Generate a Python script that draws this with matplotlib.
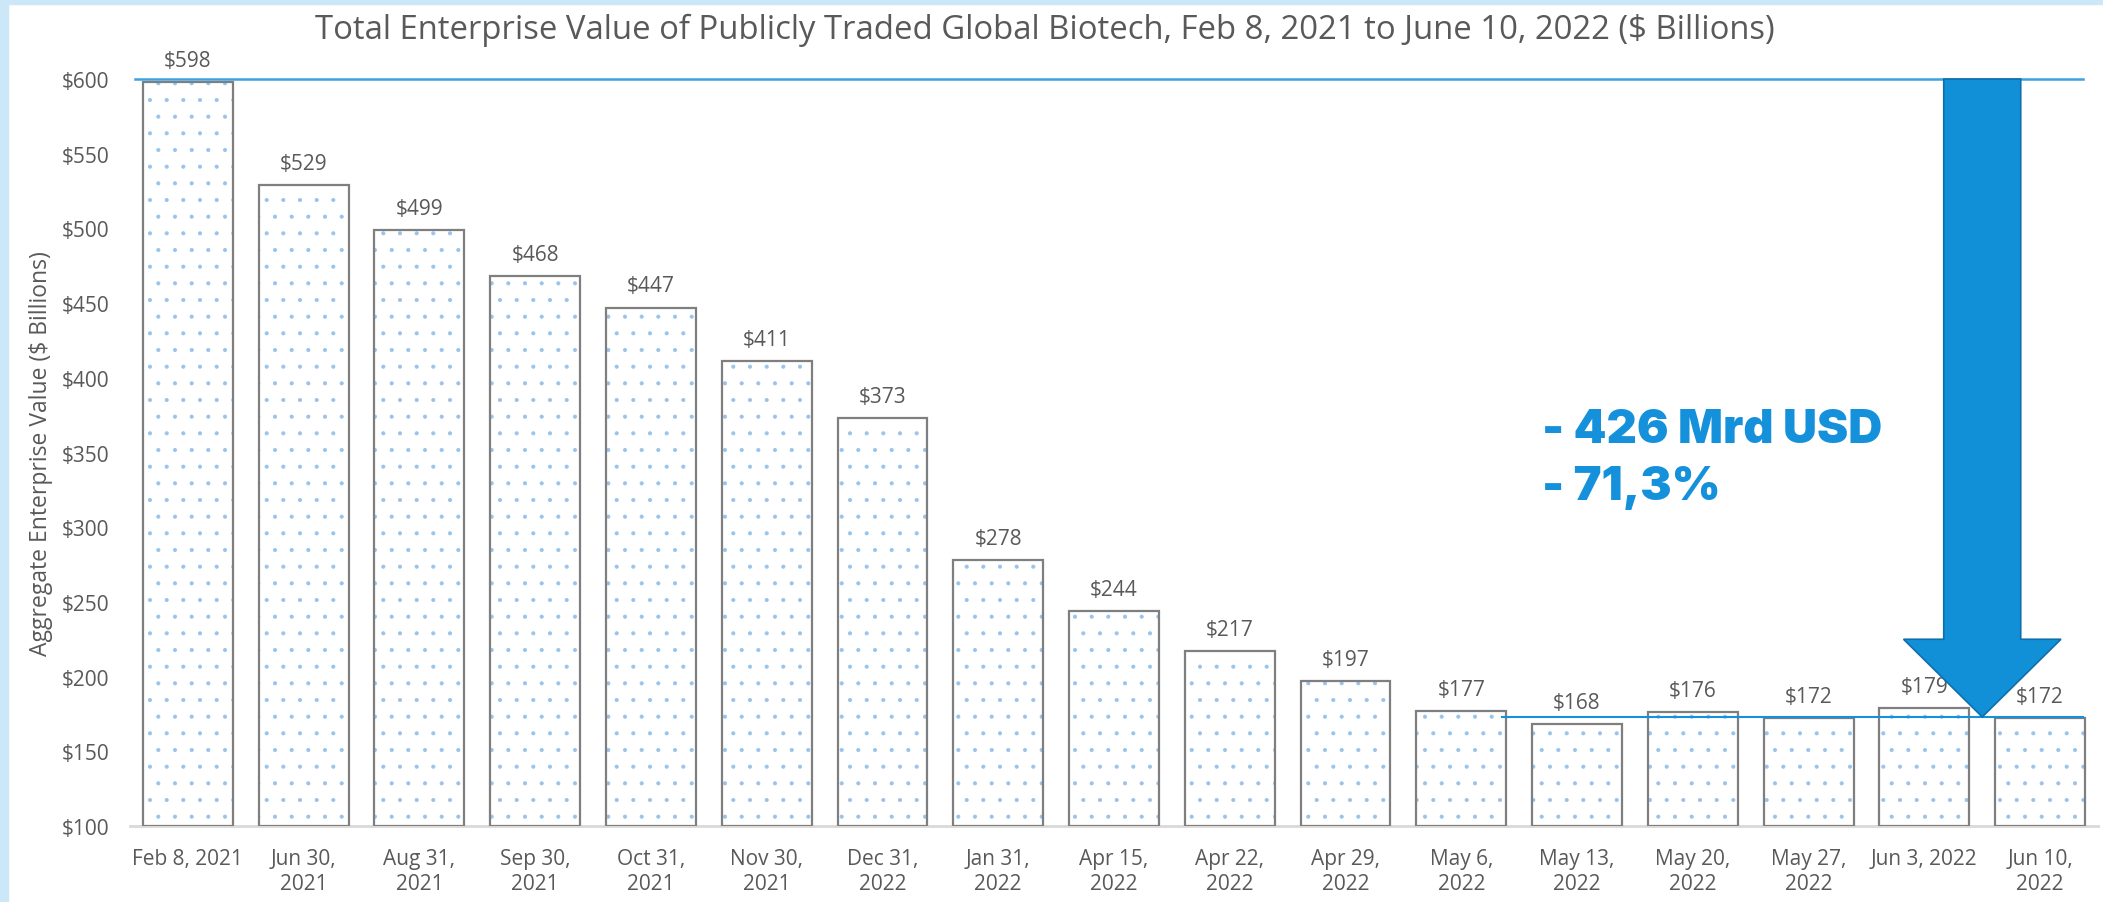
import matplotlib.pyplot as plt
from matplotlib.patches import FancyArrow, Rectangle

# ====== data ======
dates = ['Feb 8, 2021', 'Jun 30,\n2021', 'Aug 31,\n2021', 'Sep 30,\n2021', 'Oct 31,\n2021',
         'Nov 30,\n2021', 'Dec 31,\n2022', 'Jan 31,\n2022', 'Apr 15,\n2022', 'Apr 22,\n2022',
         'Apr 29,\n2022', 'May 6,\n2022', 'May 13,\n2022', 'May 20,\n2022', 'May 27,\n2022',
         'Jun 3, 2022', 'Jun 10,\n2022']
values = [598, 529, 499, 468, 447, 411, 373, 278, 244, 217, 197, 177, 168, 176, 172, 179, 172]
yticks = [100, 150, 200, 250, 300, 350, 400, 450, 500, 550, 600]
title = 'Total Enterprise Value of Publicly Traded Global Biotech, Feb 8, 2021 to June 10, 2022 ($ Billions)'
ylabel = 'Aggregate Enterprise Value ($ Billions)'
callout = ['- 426 Mrd USD', '- 71,3%']
# ==================

grey_txt = '#595959'
blue = '#1591db'
fs = 15
plt.rcParams['font.family'] = ['Open Sans', 'DejaVu Sans']
plt.rcParams['hatch.linewidth'] = 0.5

fig = plt.figure(figsize=(21.03, 9.03), dpi=100)
# light blue frame strips (left/top)
fig.patches.append(Rectangle((0, 0), 8 / 2103, 1, transform=fig.transFigure, color='#cce8f8', zorder=0))
fig.patches.append(Rectangle((0, 1 - 5 / 903), 1, 5 / 903, transform=fig.transFigure, color='#cce8f8', zorder=0))

ax = fig.add_axes([130 / 2103, 76 / 903, 1968 / 2103, 747 / 903])
x = list(range(len(values)))

# dotted fill then grey outline
ax.bar(x, [v - 100 for v in values], bottom=100, width=0.776, color='white',
       edgecolor='#98c3ec', hatch='.', linewidth=0, zorder=2)
bars = ax.bar(x, [v - 100 for v in values], bottom=100, width=0.776, fill=False,
              edgecolor='#7f7f7f', linewidth=1.6, zorder=3)
ax.bar_label(bars, labels=['$%d' % v for v in values], padding=8, fontsize=fs,
             color=grey_txt, zorder=5)

ax.set_xlim(-0.5, 16.5)
ax.set_ylim(100, 600)
ax.set_yticks(yticks)
ax.set_yticklabels(['$%d' % t for t in yticks])
ax.set_xticks(x)
ax.set_xticklabels(dates, linespacing=1.25)
ax.tick_params(axis='both', length=0, labelsize=fs, labelcolor=grey_txt)
ax.tick_params(axis='y', pad=15)
ax.tick_params(axis='x', pad=16)
for s in ['top', 'right', 'left']:
    ax.spines[s].set_visible(False)
ax.spines['bottom'].set_color('#d9d9d9')
ax.spines['bottom'].set_linewidth(2)
ax.set_ylabel(ylabel, fontsize=16.5, color=grey_txt, labelpad=6)
fig.text(0.497, 1 - 30 / 903, title, ha='center', va='center', fontsize=23.7, color=grey_txt)

# reference lines for start and end values
ax.plot([-0.46, 16.37], [values[0] + 2, values[0] + 2], color='#3ba3e0', lw=1.8, zorder=4,
        clip_on=False)
ax.plot([11.35, 16.37], [values[-1] + 1, values[-1] + 1], color='#1591db', lw=1.5, zorder=4,
        clip_on=False)

# big arrow
ax.add_patch(FancyArrow(15.5, values[0] + 2, 0, values[-1] + 1 - values[0] - 2, width=0.665,
                        head_width=1.36, head_length=52, length_includes_head=True,
                        facecolor='#1190d8', edgecolor='#0f6fab', linewidth=1.2, zorder=6,
                        clip_on=False))

ax.text(11.7, 357, callout[0], fontsize=33.8, fontweight=900, color=blue,
        family=['Inter', 'DejaVu Sans'], va='baseline', ha='left', zorder=7)
ax.text(11.7, 319, callout[1], fontsize=33.8, fontweight=900, color=blue,
        family=['Inter', 'DejaVu Sans'], va='baseline', ha='left', zorder=7)

fig.savefig('out.png', dpi=100)
